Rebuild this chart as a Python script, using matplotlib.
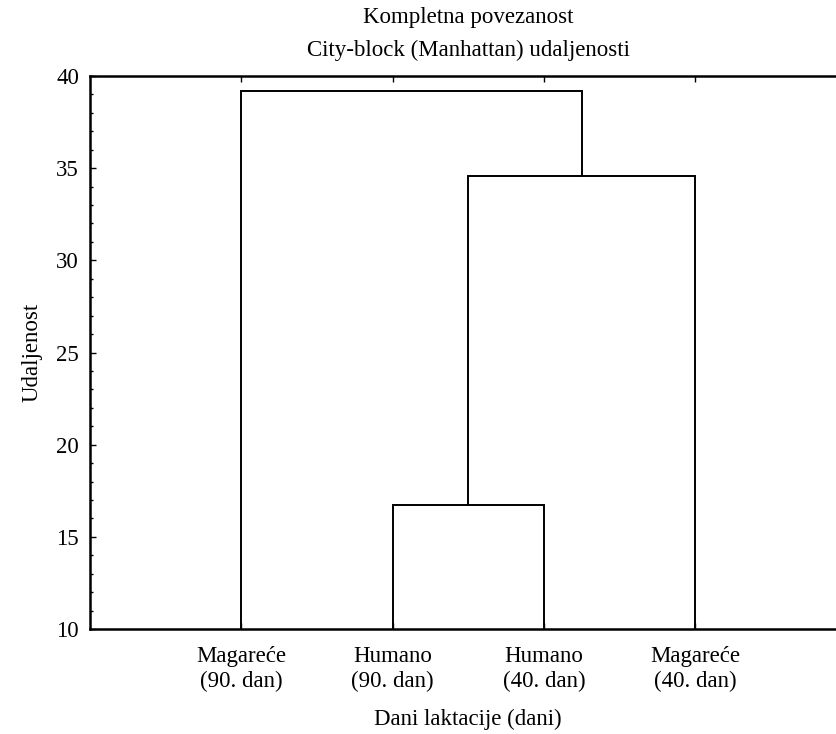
import matplotlib.pyplot as plt

plt.rcParams['font.family'] = ['Liberation Serif', 'DejaVu Serif']

# leaves in dendrogram order
leaf_labels = ["Magareće\n(90. dan)", "Humano\n(90. dan)",
               "Humano\n(40. dan)", "Magareće\n(40. dan)"]
# merges: (left node, right node, linkage distance); new nodes get ids 4, 5, 6
merge_left = [1, 4, 0]
merge_right = [2, 3, 5]
merge_height = [16.7, 34.6, 39.2]

y_min, y_max = 10, 40
fs = 16.5

fig = plt.figure(figsize=(8.37, 7.34), dpi=100)
ax = fig.add_axes([90 / 837, 1 - 629 / 734, 756.5 / 837, 553 / 734])

# node positions: leaves sit at 1..n on the x axis, at the bottom of the y range
node_x = {i: i + 1 for i in range(len(leaf_labels))}
node_y = {i: y_min for i in range(len(leaf_labels))}

for k, (a, b, h) in enumerate(zip(merge_left, merge_right, merge_height)):
    xs = [node_x[a], node_x[a], node_x[b], node_x[b]]
    ys = [node_y[a], h, h, node_y[b]]
    ax.plot(xs, ys, color='black', lw=1.4, solid_joinstyle='miter')
    new_id = len(leaf_labels) + k
    node_x[new_id] = (node_x[a] + node_x[b]) / 2
    node_y[new_id] = h

ax.set_xlim(0, 5)
ax.set_ylim(y_min, y_max)
ax.set_xticks(range(1, len(leaf_labels) + 1))
ax.set_xticklabels(leaf_labels, fontsize=fs, linespacing=1.25)
ax.set_yticks(range(10, 41, 5))
ax.set_yticks(range(10, 41), minor=True)
ax.tick_params(axis='y', which='major', direction='in', length=4, width=1,
               labelsize=fs, pad=8)
ax.tick_params(axis='y', which='minor', direction='in', length=2, width=1)
ax.tick_params(axis='x', which='major', direction='in', length=4, width=1,
               top=True, pad=12)

for side in ['left', 'top', 'bottom']:
    ax.spines[side].set_linewidth(1.8)
ax.spines['right'].set_visible(False)

ax.set_xlabel('Dani laktacije (dani)', fontsize=fs, labelpad=12)
ax.set_ylabel('Udaljenost', fontsize=fs, labelpad=10)

fig.text(468 / 837, 1 - 17 / 734, 'Kompletna povezanost', fontsize=fs,
         ha='center', va='center')
fig.text(468 / 837, 1 - 50 / 734, 'City-block (Manhattan) udaljenosti',
         fontsize=fs, ha='center', va='center')

plt.savefig('out.png', dpi=100)
